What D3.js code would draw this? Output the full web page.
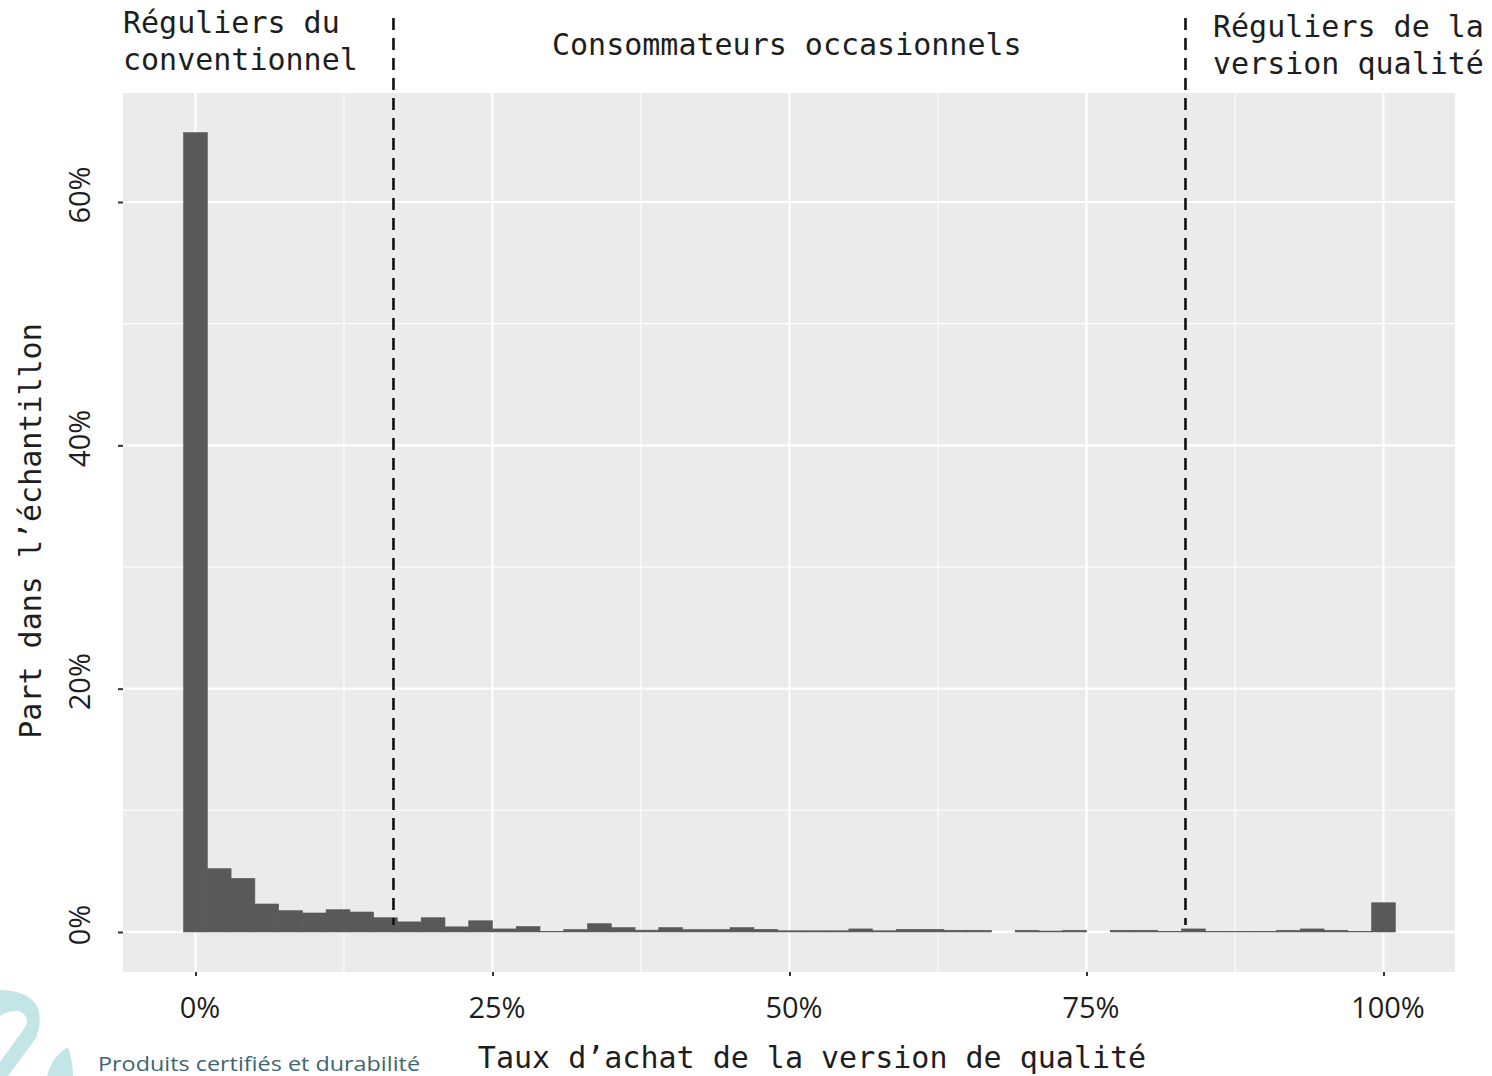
<!DOCTYPE html>
<html><head><meta charset="utf-8">
<script src="https://cdn.jsdelivr.net/npm/d3@7/dist/d3.min.js"></script>
<style>body{margin:0;background:#fff}</style></head>
<body>
<svg id="c" width="1492" height="1076"></svg>
<script>
// ---- data ----
const binCenters = [0,2,4,6,8,10,12,14,16,18,20,22,24,26,28,30,32,34,36,38,40,42,44,46,48,50,
  52,54,56,58,60,62,64,66,68,70,72,74,76,78,80,82,84,86,88,90,92,94,96,98,100];
const shares = [65.7,5.2,4.4,2.3,1.75,1.56,1.83,1.64,1.17,0.83,1.17,0.42,0.92,0.25,0.45,0.05,0.2,0.68,0.36,0.15,
  0.36,0.2,0.2,0.36,0.22,0.1,0.1,0.1,0.25,0.1,0.22,0.22,0.14,0.14,0,0.14,0.08,0.14,0,0.14,
  0.14,0.05,0.25,0.05,0.05,0.05,0.14,0.25,0.14,0.05,2.4];
const binWidth = 2;
const xTicks = [0,25,50,75,100];
const xTickLabels = ["0%","25%","50%","75%","100%"];
const xMinor = [12.5,37.5,62.5,87.5];
const yTicks = [0,20,40,60];
const yTickLabels = ["0%","20%","40%","60%"];
const yMinor = [10,30,50];
const thresholds = [100/6, 500/6];
const groupLabels = [
  {lines:["Réguliers du","conventionnel"]},
  {lines:["Consommateurs occasionnels"]},
  {lines:["Réguliers de la","version qualité"]}
];
const xTitle = "Taux d’achat de la version de qualité";
const yTitle = "Part dans l’échantillon";
const footer = "Produits certifiés et durabilité";

// ---- layout ----
const svg = d3.select("#c");
const P = {l:123, r:1455, t:93, b:972};
const x = d3.scaleLinear().domain([-6.10, 106.02]).range([P.l, P.r]);
const y = d3.scaleLinear().domain([-3.29, 68.96]).range([P.b, P.t]);

// logo watermark
svg.append("path")
  .attr("d","M0,990 C14,990 28,994 35,1003 C41,1011 41,1025 36,1038 L8,1076 L0,1076 L0,1062 L26,1026 C29,1018 24,1011 16,1011 C9,1011 4,1013 0,1016 Z")
  .attr("fill","#c4e5e5");
svg.append("path")
  .attr("d","M47,1076 C50,1064 57,1053 68,1047 C71,1056 73,1066 73,1076 Z")
  .attr("fill","#c4e5e5");

// panel
svg.append("rect").attr("x",P.l).attr("y",P.t).attr("width",P.r-P.l).attr("height",P.b-P.t).attr("fill","#ebebeb");

const g = svg.append("g");
xMinor.forEach(v=>g.append("line").attr("x1",x(v)).attr("x2",x(v)).attr("y1",P.t).attr("y2",P.b).attr("stroke","#fff").attr("stroke-width",1.1));
yMinor.forEach(v=>g.append("line").attr("y1",y(v)).attr("y2",y(v)).attr("x1",P.l).attr("x2",P.r).attr("stroke","#fff").attr("stroke-width",1.1));
xTicks.forEach(v=>g.append("line").attr("x1",x(v)).attr("x2",x(v)).attr("y1",P.t).attr("y2",P.b).attr("stroke","#fff").attr("stroke-width",2.2));
yTicks.forEach(v=>g.append("line").attr("y1",y(v)).attr("y2",y(v)).attr("x1",P.l).attr("x2",P.r).attr("stroke","#fff").attr("stroke-width",2.2));

// bars
g.selectAll("rect.bar").data(binCenters.map((c,i)=>({c, v:shares[i]})).filter(d=>d.v>0))
  .join("rect").attr("class","bar")
  .attr("x",d=>x(d.c-binWidth/2)).attr("width",d=>x(d.c+binWidth/2)-x(d.c-binWidth/2))
  .attr("y",d=>y(d.v)).attr("height",d=>y(0)-y(d.v))
  .attr("fill","#595959").attr("stroke","#595959").attr("stroke-width",0.6);

// axes
const xa = svg.append("g").attr("transform",`translate(0,${P.b})`)
  .call(d3.axisBottom(x).tickValues(xTicks).tickSize(4).tickPadding(21).tickFormat((d,i)=>xTickLabels[i]));
xa.select(".domain").remove();
xa.selectAll(".tick line").attr("stroke","#333").attr("stroke-width",2);
xa.selectAll(".tick text").attr("font-family","'Open Sans'").attr("font-size",29).attr("fill","#1e1e1e").attr("dx",4).attr("dy","0.72em");

const ya = svg.append("g").attr("transform",`translate(${P.l},0)`)
  .call(d3.axisLeft(y).tickValues(yTicks).tickSize(5).tickPadding(0).tickFormat(""));
ya.select(".domain").remove();
ya.selectAll(".tick line").attr("stroke","#333").attr("stroke-width",2);
yTicks.forEach((v,i)=>{
  svg.append("text").attr("transform",`translate(90,${y(v)-7}) rotate(-90)`)
    .attr("text-anchor","middle").attr("font-family","'Open Sans'").attr("font-size",29).attr("fill","#1e1e1e")
    .text(yTickLabels[i]);
});

// threshold dashed lines
thresholds.forEach(t=>{
  svg.append("line").attr("x1",x(t)).attr("x2",x(t)).attr("y1",18).attr("y2",y(0.58))
    .attr("stroke","#111").attr("stroke-width",2.6).attr("stroke-dasharray","12,8");
});

// group labels
const mono = "'DejaVu Sans Mono', monospace";
const labelPos = [{x:123,y:33},{x:552,y:55},{x:1213,y:37}];
groupLabels.forEach((gl,i)=>{
  gl.lines.forEach((ln,j)=>{
    svg.append("text").attr("x",labelPos[i].x).attr("y",labelPos[i].y+j*37)
      .attr("font-family",mono).attr("font-size",30).attr("fill","#1e1e1e").text(ln);
  });
});

// axis titles
svg.append("text").attr("x",812).attr("y",1068).attr("text-anchor","middle")
  .attr("font-family",mono).attr("font-size",30).attr("fill","#1e1e1e").text(xTitle);
svg.append("text").attr("transform","translate(41,531) rotate(-90)").attr("text-anchor","middle")
  .attr("font-family",mono).attr("font-size",30).attr("fill","#1e1e1e").text(yTitle);

// footer
svg.append("text").attr("x",98).attr("y",1071).attr("font-family","'Open Sans'").attr("font-size",20.5)
  .attr("textLength",322).attr("lengthAdjust","spacingAndGlyphs")
  .attr("fill","#3d6670").text(footer);
</script>
</body></html>
